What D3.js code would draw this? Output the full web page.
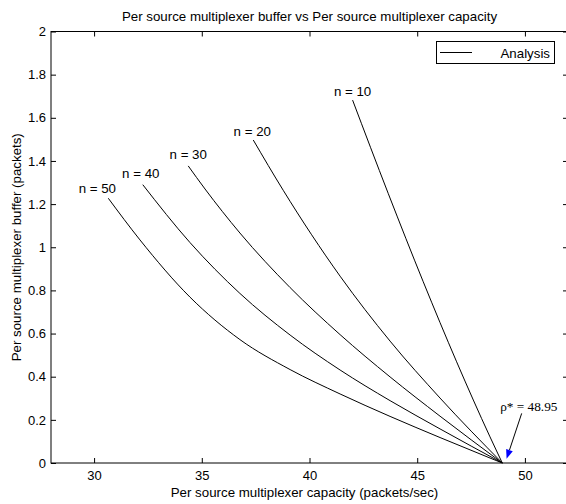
<!DOCTYPE html>
<html><head><meta charset="utf-8">
<script src="https://cdn.jsdelivr.net/npm/d3@7"></script>
<style>
body{margin:0;background:#fff;}
text{font-family:"Liberation Sans",Arial,sans-serif;}
</style></head>
<body><svg id="c" width="566" height="504"></svg>
<script>
const title = "Per source multiplexer buffer vs Per source multiplexer capacity";
const xLabel = "Per source multiplexer capacity (packets/sec)";
const yLabel = "Per source multiplexer buffer (packets)";
const xTicks = [30, 35, 40, 45, 50];
const yTicks = [0, 0.2, 0.4, 0.6, 0.8, 1, 1.2, 1.4, 1.6, 1.8, 2];
const seriesNames = ["n = 10", "n = 20", "n = 30", "n = 40", "n = 50"];
const n10 = [[42.0,1.682],[43.66,1.248],[45.28,0.840],[46.83,0.469],[48.38,0.121],[48.95,0]];
const n20 = [[37.39,1.497],[38.78,1.264],[41.42,0.866],[43.74,0.565],[46.06,0.301],[48.95,0]];
const n30 = [[34.37,1.377],[35.15,1.270],[36.77,1.066],[39.10,0.813],[41.42,0.595],[43.74,0.399],[46.06,0.217],[48.95,0]];
const n40 = [[32.26,1.290],[34.45,1.022],[36.77,0.786],[39.10,0.593],[41.42,0.431],[43.74,0.289],[46.06,0.158],[48.95,0]];
const n50 = [[30.66,1.227],[32.13,1.034],[34.45,0.769],[36.77,0.572],[39.10,0.433],[41.42,0.320],[43.74,0.216],[46.06,0.118],[48.38,0.023],[48.95,0]];
const series = [n10, n20, n30, n40, n50];
const rhoStar = 48.95;
const legendLabel = "Analysis";

const FONT = "'Liberation Sans',Arial,sans-serif";
const svg = d3.select("#c");
const L = 51, R = 568, T = 31.5, B = 463;
const x = d3.scaleLinear().domain([28, 52]).range([L, R]);
const y = d3.scaleLinear().domain([0, 2]).range([B, T]);

svg.append("rect").attr("x", L).attr("y", T).attr("width", R - L).attr("height", B - T)
  .attr("fill", "none").attr("stroke", "#000").attr("stroke-width", 1);

const tl = 5;
const gx = svg.append("g").attr("transform", `translate(0,${B})`)
  .call(d3.axisBottom(x).tickValues(xTicks).tickSize(-tl).tickPadding(8).tickFormat(d3.format("d")));
const gxt = svg.append("g").attr("transform", `translate(0,${T})`)
  .call(d3.axisTop(x).tickValues(xTicks).tickSize(-tl).tickFormat(""));
const gy = svg.append("g").attr("transform", `translate(${L},0)`)
  .call(d3.axisLeft(y).tickValues(yTicks).tickSize(-tl).tickPadding(5).tickFormat(d => d3.format("")(d)));
const gyr = svg.append("g").attr("transform", `translate(${R},0)`)
  .call(d3.axisRight(y).tickValues(yTicks).tickSize(-tl).tickFormat(""));
[gx, gxt, gy, gyr].forEach(g => {
  g.select(".domain").remove();
  g.selectAll("line").attr("stroke", "#000");
  g.selectAll("text").attr("font-size", 13).attr("fill", "#000").style("font-family", FONT);
});
gx.selectAll("text").attr("dy", "0.71em");

const line = d3.line().x(d => x(d[0])).y(d => y(d[1])).curve(d3.curveMonotoneX);
svg.append("g").selectAll("path").data(series).join("path")
  .attr("d", line).attr("fill", "none").attr("stroke", "#000").attr("stroke-width", 1);

// label offsets (pixels) relative to each curve's first point
const ldx = [0, -1, 0, -2, -11];
const ldy = [-4, -4, -7, -7, -5];
svg.append("g").selectAll("text").data(series).join("text")
  .attr("x", (d, i) => x(d[0][0]) + ldx[i])
  .attr("y", (d, i) => y(d[0][1]) + ldy[i])
  .attr("text-anchor", "middle").attr("font-size", 13.3)
  .text((d, i) => seriesNames[i]);

svg.append("text").attr("x", (L + R) / 2).attr("y", 21).attr("text-anchor", "middle")
  .attr("font-size", 13.3).text(title);
svg.append("text").attr("x", (L + R) / 2 - 5).attr("y", 497).attr("text-anchor", "middle")
  .attr("font-size", 13.3).text(xLabel);
svg.append("text").attr("transform", `translate(21,${(T + B) / 2}) rotate(-90)`)
  .attr("text-anchor", "middle").attr("font-size", 13.3).text(yLabel);

const lg = svg.append("g");
lg.append("rect").attr("x", 436.5).attr("y", 41.5).attr("width", 118).attr("height", 22)
  .attr("fill", "#fff").attr("stroke", "#000");
lg.append("line").attr("x1", 440).attr("x2", 472).attr("y1", 52.5).attr("y2", 52.5)
  .attr("stroke", "#000").attr("stroke-width", 1);
lg.append("text").attr("x", 550).attr("y", 57.5).attr("text-anchor", "end")
  .attr("font-size", 13.3).text(legendLabel);

const tipX = x(rhoStar + 0.2), tipY = y(0.02);
const tailX = x(rhoStar + 0.9), tailY = y(0.23);
const ang = Math.atan2(tipY - tailY, tipX - tailX);
const hl = 9, hw = 3.5;
const bx = tipX - hl * Math.cos(ang), by = tipY - hl * Math.sin(ang);
svg.append("line").attr("x1", tailX).attr("y1", tailY).attr("x2", bx).attr("y2", by)
  .attr("stroke", "#000").attr("stroke-width", 1);
svg.append("path")
  .attr("d", `M${tipX},${tipY}L${bx + hw * Math.sin(ang)},${by - hw * Math.cos(ang)}L${bx - hw * Math.sin(ang)},${by + hw * Math.cos(ang)}Z`)
  .attr("fill", "#0000ff");
svg.append("text").attr("x", x(rhoStar - 0.1)).attr("y", 411)
  .attr("font-size", 13.3).style("font-family", "'Liberation Serif','Times New Roman',serif")
  .text("ρ* = " + rhoStar.toFixed(2));
</script></body></html>
